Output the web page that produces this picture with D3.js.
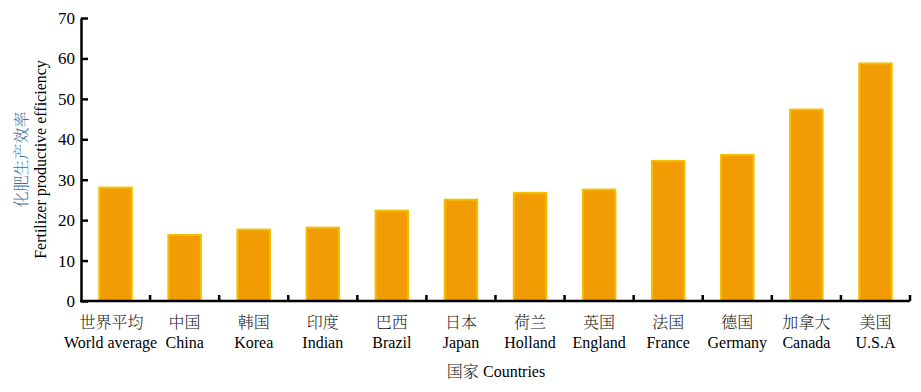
<!DOCTYPE html>
<html>
<head>
<meta charset="utf-8">
<script src="https://cdn.jsdelivr.net/npm/d3@7/dist/d3.min.js"></script>
<style>
  body { margin: 0; background: #fff; }
  svg { display: block; }
  text { font-family: "Liberation Serif", "Times New Roman", serif; }
  .cjk { font-family: "Noto Serif CJK SC", "Noto Sans CJK SC", serif; font-weight: 300; }
</style>
</head>
<body>
<svg id="chart" width="921" height="392"></svg>
<script>
const categoriesZh = ["世界平均", "中国", "韩国", "印度", "巴西", "日本", "荷兰", "英国", "法国", "德国", "加拿大", "美国"];
const categoriesEn = ["World average", "China", "Korea", "Indian", "Brazil", "Japan", "Holland", "England", "France", "Germany", "Canada", "U.S.A"];
const values = [28.3, 16.6, 17.9, 18.4, 22.6, 25.3, 27.0, 27.8, 34.9, 36.4, 47.6, 59.0];
const yTicks = [0, 10, 20, 30, 40, 50, 60, 70];

const svg = d3.select("#chart");
const margin = { left: 81, right: 11, top: 18, bottom: 91 };
const W = 921, H = 392;
const x = d3.scaleBand().domain(categoriesEn).range([margin.left, W - margin.right]).paddingInner(0.5).paddingOuter(0.25);
const y = d3.scaleLinear().domain([0, 70]).range([H - margin.bottom, margin.top]);

// bars
svg.append("g").selectAll("rect").data(values).join("rect")
  .attr("x", (d, i) => x(categoriesEn[i]) + 1)
  .attr("y", d => y(d) + 1)
  .attr("width", x.bandwidth() - 2)
  .attr("height", d => y(0) - y(d) - 1)
  .attr("fill", "#F29C04")
  .attr("stroke", "#F2C000")
  .attr("stroke-width", 2);

// y axis
const yAxis = d3.axisLeft(y).tickValues(yTicks).tickSize(7).tickSizeOuter(0).tickPadding(4);
const gy = svg.append("g").attr("transform", `translate(${margin.left},0)`).call(yAxis);
gy.select(".domain").attr("stroke", "#000").attr("stroke-width", 2.5);
gy.selectAll(".tick line").attr("stroke", "#000").attr("stroke-width", 2.5).attr("x1", 0).attr("x2", 7);
gy.selectAll(".tick text").attr("font-size", 17).attr("fill", "#000").attr("x", -6)
  .style("font-family", "Liberation Serif, serif");

// x axis line and boundary ticks
const gx = svg.append("g");
gx.append("line").attr("x1", margin.left - 1).attr("x2", W - margin.right)
  .attr("y1", y(0)).attr("y2", y(0)).attr("stroke", "#000").attr("stroke-width", 2.5);
const boundaries = categoriesEn.map((c, i) => x(c) - x.bandwidth() * 0.5).slice(1).concat([W - margin.right]);
gx.selectAll("line.tk").data(boundaries).join("line").attr("class", "tk")
  .attr("x1", d => d).attr("x2", d => d)
  .attr("y1", y(0)).attr("y2", y(0) - 6)
  .attr("stroke", "#000").attr("stroke-width", 2.5);

// x labels
const lab = svg.append("g");
lab.selectAll("text.zh").data(categoriesZh).join("text").attr("class", "zh cjk")
  .attr("x", (d, i) => x(categoriesEn[i]) + x.bandwidth() / 2 - (i === 0 ? 4 : 0))
  .attr("y", 328).attr("text-anchor", "middle").attr("font-size", 16).attr("fill", "#222")
  .text(d => d);
lab.selectAll("text.en").data(categoriesEn).join("text").attr("class", "en")
  .attr("x", (d, i) => x(d) + x.bandwidth() / 2 - (i === 0 ? 5 : 0))
  .attr("y", 348).attr("text-anchor", "middle").attr("font-size", 16).attr("fill", "#000")
  .text(d => d);

// x title
const xt = svg.append("text").attr("x", 496).attr("y", 377).attr("text-anchor", "middle").attr("font-size", 16);
xt.append("tspan").attr("class", "cjk").attr("font-size", 16).attr("fill", "#222").text("国家 ");
xt.append("tspan").text("Countries");

// y title
const yc = (y(0) + y(70)) / 2;
svg.append("text").attr("class", "cjk")
  .attr("transform", `translate(27,${yc}) rotate(-90)`)
  .attr("text-anchor", "middle").attr("font-size", 16).attr("fill", "#3b6ea0")
  .text("化肥生产效率");
svg.append("text")
  .attr("transform", `translate(46,${yc}) rotate(-90)`)
  .attr("text-anchor", "middle").attr("font-size", 16).attr("fill", "#000")
  .text("Fertilizer productive efficiency");
</script>
</body>
</html>
